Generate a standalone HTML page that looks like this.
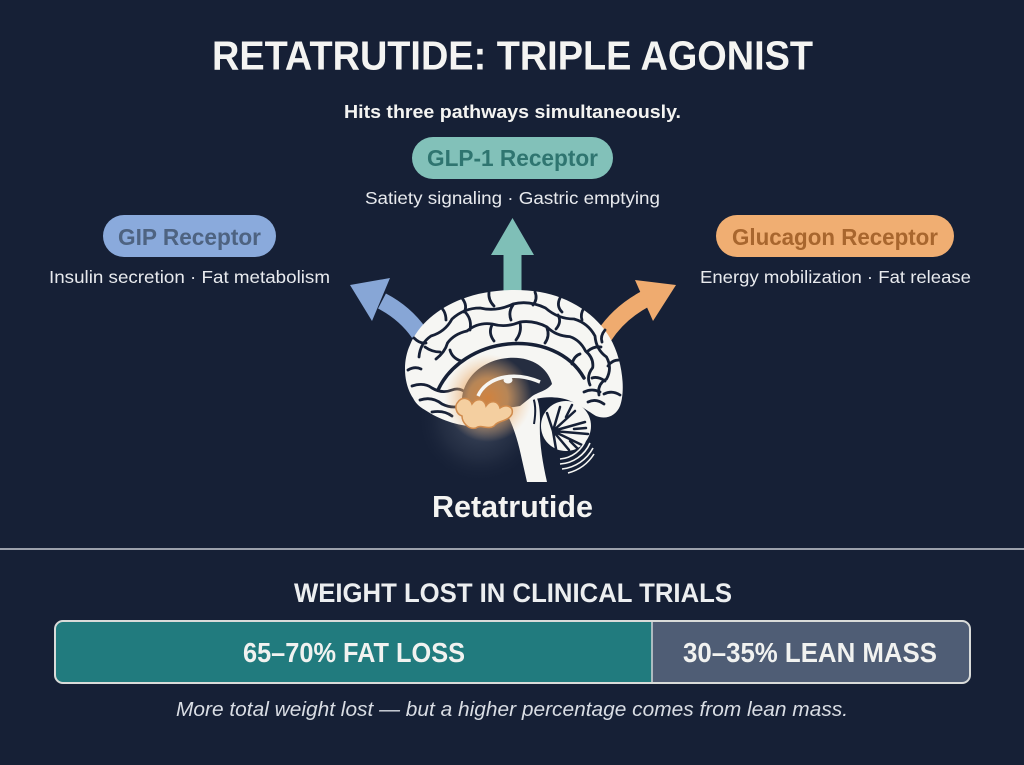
<!DOCTYPE html>
<html>
<head>
<meta charset="utf-8">
<style>
  html,body{margin:0;padding:0;background:#162036;}
  body{width:1024px;height:765px;overflow:hidden;}
  svg{display:block;}
  text{font-family:"Liberation Sans", Arial, sans-serif;}
</style>
</head>
<body>
<svg width="1024" height="765" viewBox="0 0 1024 765" xmlns="http://www.w3.org/2000/svg">
  <defs>
    <radialGradient id="halo" cx="0.5" cy="0.5" r="0.5">
      <stop offset="0" stop-color="#6a7386" stop-opacity="0.55"/>
      <stop offset="0.6" stop-color="#3a4458" stop-opacity="0.35"/>
      <stop offset="1" stop-color="#162036" stop-opacity="0"/>
    </radialGradient>
    <radialGradient id="glow" cx="0.5" cy="0.5" r="0.5">
      <stop offset="0" stop-color="#d9863e" stop-opacity="0.95"/>
      <stop offset="0.45" stop-color="#e8a35e" stop-opacity="0.75"/>
      <stop offset="1" stop-color="#f3c28e" stop-opacity="0"/>
    </radialGradient>
    <clipPath id="barclip"><rect x="55" y="621" width="915" height="62" rx="8"/></clipPath>
  </defs>

  <rect width="1024" height="765" fill="#162036"/>

  <!-- Title -->
  <text x="212" y="69.5" font-size="41" font-weight="bold" fill="#f4f4f2" textLength="601" lengthAdjust="spacingAndGlyphs">RETATRUTIDE: TRIPLE AGONIST</text>
  <text x="344" y="118" font-size="18.5" font-weight="bold" fill="#f4f4f2" textLength="337" lengthAdjust="spacingAndGlyphs">Hits three pathways simultaneously.</text>

  <!-- GLP-1 pill -->
  <rect x="412" y="137" width="201" height="42" rx="21" fill="#82c1b9"/>
  <text x="427" y="166" font-size="23" font-weight="bold" fill="#2f7570" textLength="171" lengthAdjust="spacingAndGlyphs">GLP-1 Receptor</text>
  <text x="365" y="204" font-size="17.5" fill="#e8eaee" textLength="295" lengthAdjust="spacingAndGlyphs">Satiety signaling · Gastric emptying</text>

  <!-- GIP pill -->
  <rect x="103" y="215" width="173" height="42" rx="21" fill="#8aaadc"/>
  <text x="118" y="245" font-size="23" font-weight="bold" fill="#4e6381" textLength="143" lengthAdjust="spacingAndGlyphs">GIP Receptor</text>
  <text x="49" y="283" font-size="17.5" fill="#e8eaee" textLength="281" lengthAdjust="spacingAndGlyphs">Insulin secretion · Fat metabolism</text>

  <!-- Glucagon pill -->
  <rect x="716" y="215" width="238" height="42" rx="21" fill="#f0ae72"/>
  <text x="732" y="245" font-size="23" font-weight="bold" fill="#a8662e" textLength="206" lengthAdjust="spacingAndGlyphs">Glucagon Receptor</text>
  <text x="700" y="283" font-size="17.5" fill="#e8eaee" textLength="271" lengthAdjust="spacingAndGlyphs">Energy mobilization · Fat release</text>

  <!-- Arrows -->
  <polygon points="503.5,292 521.5,292 521.5,255 534,255 512.5,218 491,255 503.5,255" fill="#7fbfb7"/>
  <path d="M419,333 Q405,313 382,301" stroke="#87a6d6" stroke-width="17" fill="none"/>
  <polygon points="350,285 390,278 372,321" fill="#87a6d6"/>
  <path d="M604,336 Q619,313 645,299" stroke="#efab6f" stroke-width="17" fill="none"/>
  <polygon points="676,285 635,280 653,321" fill="#efab6f"/>

  <!-- Brain -->
  <circle cx="480" cy="420" r="64" fill="url(#halo)"/>
  <!-- brainstem -->
  <path d="M501,404 C512,420 518,440 522,460 L527,482 L547,482 C542,460 539,440 540,420 C540,410 539,402 536,396 Z" fill="#f6f6f3"/>
  <path d="M531,392 C536,402 536,412 534,424" stroke="#162036" stroke-width="2" fill="none"/>
  <!-- cerebellum -->
  <circle cx="566" cy="426" r="25" fill="#f6f6f3"/>
  <g stroke="#162036" stroke-width="2.5" fill="none" stroke-linecap="round">
    <path d="M553,431 L547,413 M553,431 L560,407 M553,431 L575,411 M553,431 L585,422 M553,431 L588,434 M553,431 L582,445 M553,431 L569,450 M553,431 L556,449"/>
    <path d="M566,417 L572,405 M574,429 L586,428 M570,441 L578,449"/>
  </g>
  <g stroke="#f6f6f3" stroke-width="1.6" fill="none">
    <path d="M586,439 A30,30 0 0 1 560,459"/>
    <path d="M590,443 A35,35 0 0 1 560,464"/>
    <path d="M593,448 A40,40 0 0 1 562,469"/>
    <path d="M594,454 A44,44 0 0 1 568,473"/>
  </g>
  <!-- cerebrum -->
  <path d="M413,398 C404,385 402,362 410,345 C418,325 438,308 462,299 C485,290 515,288 540,292 C570,297 597,315 610,338 C622,358 626,390 620,406 C616,416 606,420 596,416 C586,410 574,400 560,398 C546,396 536,398 528,402 C515,412 500,424 482,426 C462,428 440,420 425,410 C418,406 415,402 413,398 Z" fill="#f6f6f3"/>
  <!-- gyri -->
  <g stroke="#162036" stroke-width="2.8" fill="none" stroke-linecap="round" stroke-linejoin="round">
    <!-- band 1 -->
    <path d="M419,357 Q420,343.5 431,336 Q445,332 452,319 Q464,308 480,308 Q496.5,312 513,304 Q529,300 545.5,308 Q558,319 574,319 Q588,323 595,336 Q596,349.5 606.5,357 Q612.5,368 606.5,379 Q597,384 599,395"/>
    <!-- band 2 -->
    <path d="M436,359 Q445,352 447.5,343 Q454,334 467,331 Q478,322 492,324 Q506,328 520,322 Q534,320 547,327 Q556,336 569.6,336.6 Q580,340 585.5,351 Q594,358 592.7,367.6 Q586,376 590,385"/>
    <!-- edge to band1 -->
    <path d="M408,370 Q415,366 421,369"/>
    <path d="M438,305 Q446,310 446,320"/>
    <path d="M489,292 Q488,300 494,306"/>
    <path d="M535,292 Q538,299 533,305"/>
    <path d="M584,308 Q580,314 582,320"/>
    <path d="M619,360 Q612,360 608,366"/>
    <path d="M620,395 Q612,390 604,394"/>
    <path d="M414,338 Q420,344 426,343"/>
    <path d="M462,298 Q468,306 464,312"/>
    <path d="M560,298 Q556,306 562,312"/>
    <path d="M605,330 Q600,336 602,342"/>
    <!-- band1 to band2 -->
    <path d="M425,347 Q432,352 440,352"/>
    <path d="M466,313 Q472,320 470,330"/>
    <path d="M513,305 Q508,312 511,320"/>
    <path d="M558,315 Q562,322 556,329"/>
    <path d="M601,347 Q594,346 588,351"/>
    <path d="M605,381 Q598,376 592,378"/>
    <!-- band2 to cingulate -->
    <path d="M450,350 Q452,358 461,361"/>
    <path d="M492,325 Q488,333 494,341"/>
    <path d="M547,328 Q550,336 545,343"/>
    <path d="M580,354 Q574,356 572,364"/>
    <path d="M520,323 Q522,332 516,340"/>
    <!-- lower lobe lines -->
    <path d="M412,386 Q424,382 432,388 Q442,394 452,390 Q460,387 466,393"/>
    <path d="M420,400 Q432,396 442,404 Q454,410 466,404"/>
    <path d="M432,412 Q444,410 452,416"/>
    <path d="M604,404 Q596,398 588,402"/>
    <path d="M600,392 Q592,388 584,392"/>
  </g>
  <!-- cingulate sulcus -->
  <path d="M438,390 C450,364 478,347 508,344 C540,341 570,353 584,378" stroke="#162036" stroke-width="3.5" fill="none" stroke-linecap="round"/>
  <!-- inner dark region -->
  <path d="M462,398 C464,378 482,360 508,358 C532,356 548,368 552,384 C546,392 536,392 530,398 L520,406 C500,410 478,406 462,398 Z" fill="#252d40"/>
  <circle cx="488" cy="398" r="44" fill="url(#glow)"/>
  <!-- peach lobes (hypothalamus) -->
  <path d="M458,402 C462,396 470,398 472,404 C476,398 484,398 486,406 C490,400 498,400 500,408 C506,404 514,406 512,414 C508,422 498,420 494,426 C488,430 480,424 476,428 C468,430 462,422 462,416 C456,414 454,406 458,402 Z" fill="#f4cfa0" stroke="#cf8a4c" stroke-width="1.5"/>
  <!-- fornix -->
  <path d="M478,396 C486,378 512,370 540,382" stroke="#f6f6f3" stroke-width="3.5" fill="none"/>
  <ellipse cx="508" cy="380" rx="4.5" ry="3.5" fill="#f6f6f3"/>

  <text x="432" y="517" font-size="30.5" font-weight="bold" fill="#f4f4f2" textLength="161" lengthAdjust="spacingAndGlyphs">Retatrutide</text>

  <!-- Divider -->
  <line x1="0" y1="549" x2="1024" y2="549" stroke="#c8ccd4" stroke-width="1.6"/>

  <!-- Bottom section -->
  <text x="294" y="602" font-size="26.5" font-weight="bold" fill="#eceef0" textLength="438" lengthAdjust="spacingAndGlyphs">WEIGHT LOST IN CLINICAL TRIALS</text>

  <g clip-path="url(#barclip)">
    <rect x="55" y="621" width="597" height="62" fill="#217b7e"/>
    <rect x="652" y="621" width="318" height="62" fill="#4f5d75"/>
  </g>
  <line x1="652" y1="621" x2="652" y2="683" stroke="#d2d6d8" stroke-width="1.5"/>
  <rect x="55" y="621" width="915" height="62" rx="8" fill="none" stroke="#d9dbd9" stroke-width="2"/>

  <text x="243" y="662" font-size="27.5" font-weight="bold" fill="#f1f2f0" textLength="222" lengthAdjust="spacingAndGlyphs">65–70% FAT LOSS</text>
  <text x="683" y="662" font-size="27.5" font-weight="bold" fill="#f1f2f0" textLength="254" lengthAdjust="spacingAndGlyphs">30–35% LEAN MASS</text>

  <text x="176" y="716" font-size="20.5" font-style="italic" fill="#d9dde4" textLength="672" lengthAdjust="spacingAndGlyphs">More total weight lost — but a higher percentage comes from lean mass.</text>
</svg>
</body>
</html>
